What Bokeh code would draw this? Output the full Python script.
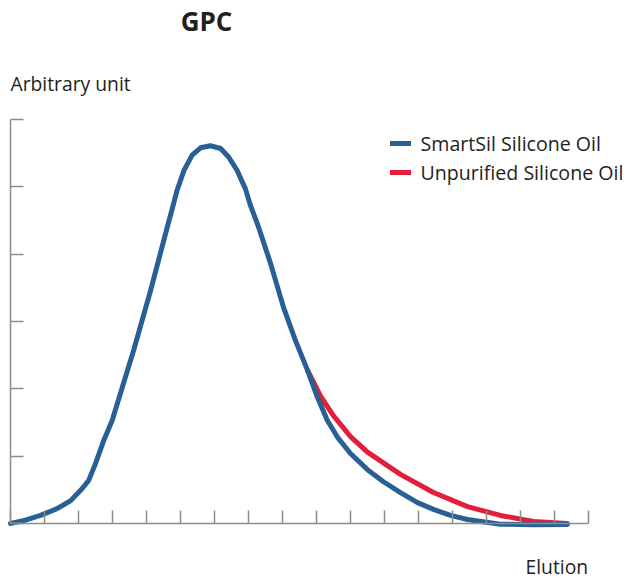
from bokeh.plotting import figure
from bokeh.models import Range1d, LinearAxis, FixedTicker, Label, Legend, LegendItem
from bokeh.embed import file_html
from bokeh.resources import INLINE

# ---- data ----
TITLE = "GPC"
Y_LABEL = "Arbitrary unit"
X_LABEL = "Elution"
SERIES_NAMES = ["SmartSil Silicone Oil", "Unpurified Silicone Oil"]

X_TICKS = [0, 1, 2, 3, 4, 5, 6, 7, 8, 9, 10, 11, 12, 13, 14, 15, 16, 17]
Y_TICKS = [0, 1, 2, 3, 4, 5, 6]

smartsil_x = [0.00, 0.44, 0.88, 1.37, 1.77, 2.11, 2.30, 2.50, 2.74, 2.99, 3.14,
              3.62, 4.12, 4.61, 4.76, 4.90, 5.10, 5.34, 5.59, 5.88, 6.18, 6.42,
              6.67, 6.91, 7.06, 7.27, 7.65, 8.03, 8.38, 8.74, 9.03, 9.32, 9.62,
              10.00, 10.50, 10.97, 11.47, 11.97, 12.44, 12.94, 13.44, 14.41,
              15.38, 16.38]
smartsil_y = [0.00, 0.05, 0.12, 0.22, 0.34, 0.52, 0.64, 0.89, 1.23, 1.53, 1.78,
              2.57, 3.46, 4.40, 4.68, 4.95, 5.24, 5.47, 5.58, 5.61, 5.57, 5.44,
              5.24, 4.97, 4.72, 4.44, 3.86, 3.21, 2.72, 2.27, 1.87, 1.53, 1.28,
              1.04, 0.80, 0.62, 0.46, 0.31, 0.21, 0.12, 0.06, -0.01,
              -0.02, -0.015]

unpurified_x = [8.74, 9.12, 9.50, 10.00, 10.50, 11.47, 12.44, 13.44, 14.41, 15.38, 16.38]
unpurified_y = [2.27, 1.89, 1.60, 1.29, 1.06, 0.73, 0.46, 0.25, 0.12, 0.03, 0.00]

# ---- styling ----
BLUE = "#286096"
RED = "#E31D3A"
AXIS_GREY = "#8C8C8C"
TEXT = "#231F20"
FONT = "Open Sans"

W, H = 628, 581
X0_PX, Y0_PX = 10, 523          # pixel position of the data origin
PX_PER_X, PX_PER_Y = 34.0, 67.33

p = figure(width=W, height=H, output_backend="svg", toolbar_location=None,
           x_range=Range1d(-X0_PX / PX_PER_X, (W - X0_PX) / PX_PER_X),
           y_range=Range1d(-(H - Y0_PX) / PX_PER_Y, Y0_PX / PX_PER_Y),
           x_axis_location=None, y_axis_location=None, title_location=None,
           min_border=0)
p.outline_line_color = None
p.background_fill_color = "white"
p.border_fill_color = "white"
p.xgrid.visible = False
p.ygrid.visible = False


def style_axis(ax, ticks):
    ax.ticker = FixedTicker(ticks=ticks, minor_ticks=[])
    ax.major_label_overrides = {t: "" for t in ticks}
    ax.major_label_text_font_size = "0px"
    ax.major_label_standoff = 0
    ax.axis_line_color = AXIS_GREY
    ax.axis_line_width = 1.5
    ax.major_tick_line_color = AXIS_GREY
    ax.major_tick_line_width = 1.5
    ax.major_tick_in = 13
    ax.major_tick_out = 0
    ax.minor_tick_in = 0
    ax.minor_tick_out = 0


xaxis = LinearAxis(fixed_location=0, bounds=(X_TICKS[0], X_TICKS[-1]))
style_axis(xaxis, X_TICKS)
yaxis = LinearAxis(fixed_location=0, bounds=(Y_TICKS[0], Y_TICKS[-1]))
style_axis(yaxis, Y_TICKS)
p.add_layout(xaxis, "below")
p.add_layout(yaxis, "left")

r_red = p.line(unpurified_x, unpurified_y, line_color=RED, line_width=5,
               line_cap="round", line_join="round")
r_blue = p.line(smartsil_x, smartsil_y, line_color=BLUE, line_width=5,
                line_cap="round", line_join="round")

legend = Legend(items=[LegendItem(label=SERIES_NAMES[0], renderers=[r_blue]),
                       LegendItem(label=SERIES_NAMES[1], renderers=[r_red])],
                location=(389.5, 395), padding=0, margin=0, spacing=1,
                glyph_width=21, glyph_height=28, label_height=28,
                label_standoff=10, border_line_color=None,
                background_fill_alpha=0, label_text_font=FONT,
                label_text_font_size="19.6px", label_text_color=TEXT)
p.add_layout(legend)

p.add_layout(Label(x=206, y=561, x_units="screen", y_units="screen", text=TITLE,
                   text_align="center", text_baseline="alphabetic",
                   text_font=FONT, text_font_style="bold",
                   text_font_size="26px", text_color=TEXT))
p.add_layout(Label(x=10, y=498, x_units="screen", y_units="screen", text=Y_LABEL,
                   text_align="left", text_baseline="alphabetic",
                   text_font=FONT, text_font_size="19.3px", text_color=TEXT))
p.add_layout(Label(x=525, y=15, x_units="screen", y_units="screen", text=X_LABEL,
                   text_align="left", text_baseline="alphabetic",
                   text_font=FONT, text_font_size="19.3px", text_color=TEXT))

open("out.html", "w").write(file_html(p, INLINE))
